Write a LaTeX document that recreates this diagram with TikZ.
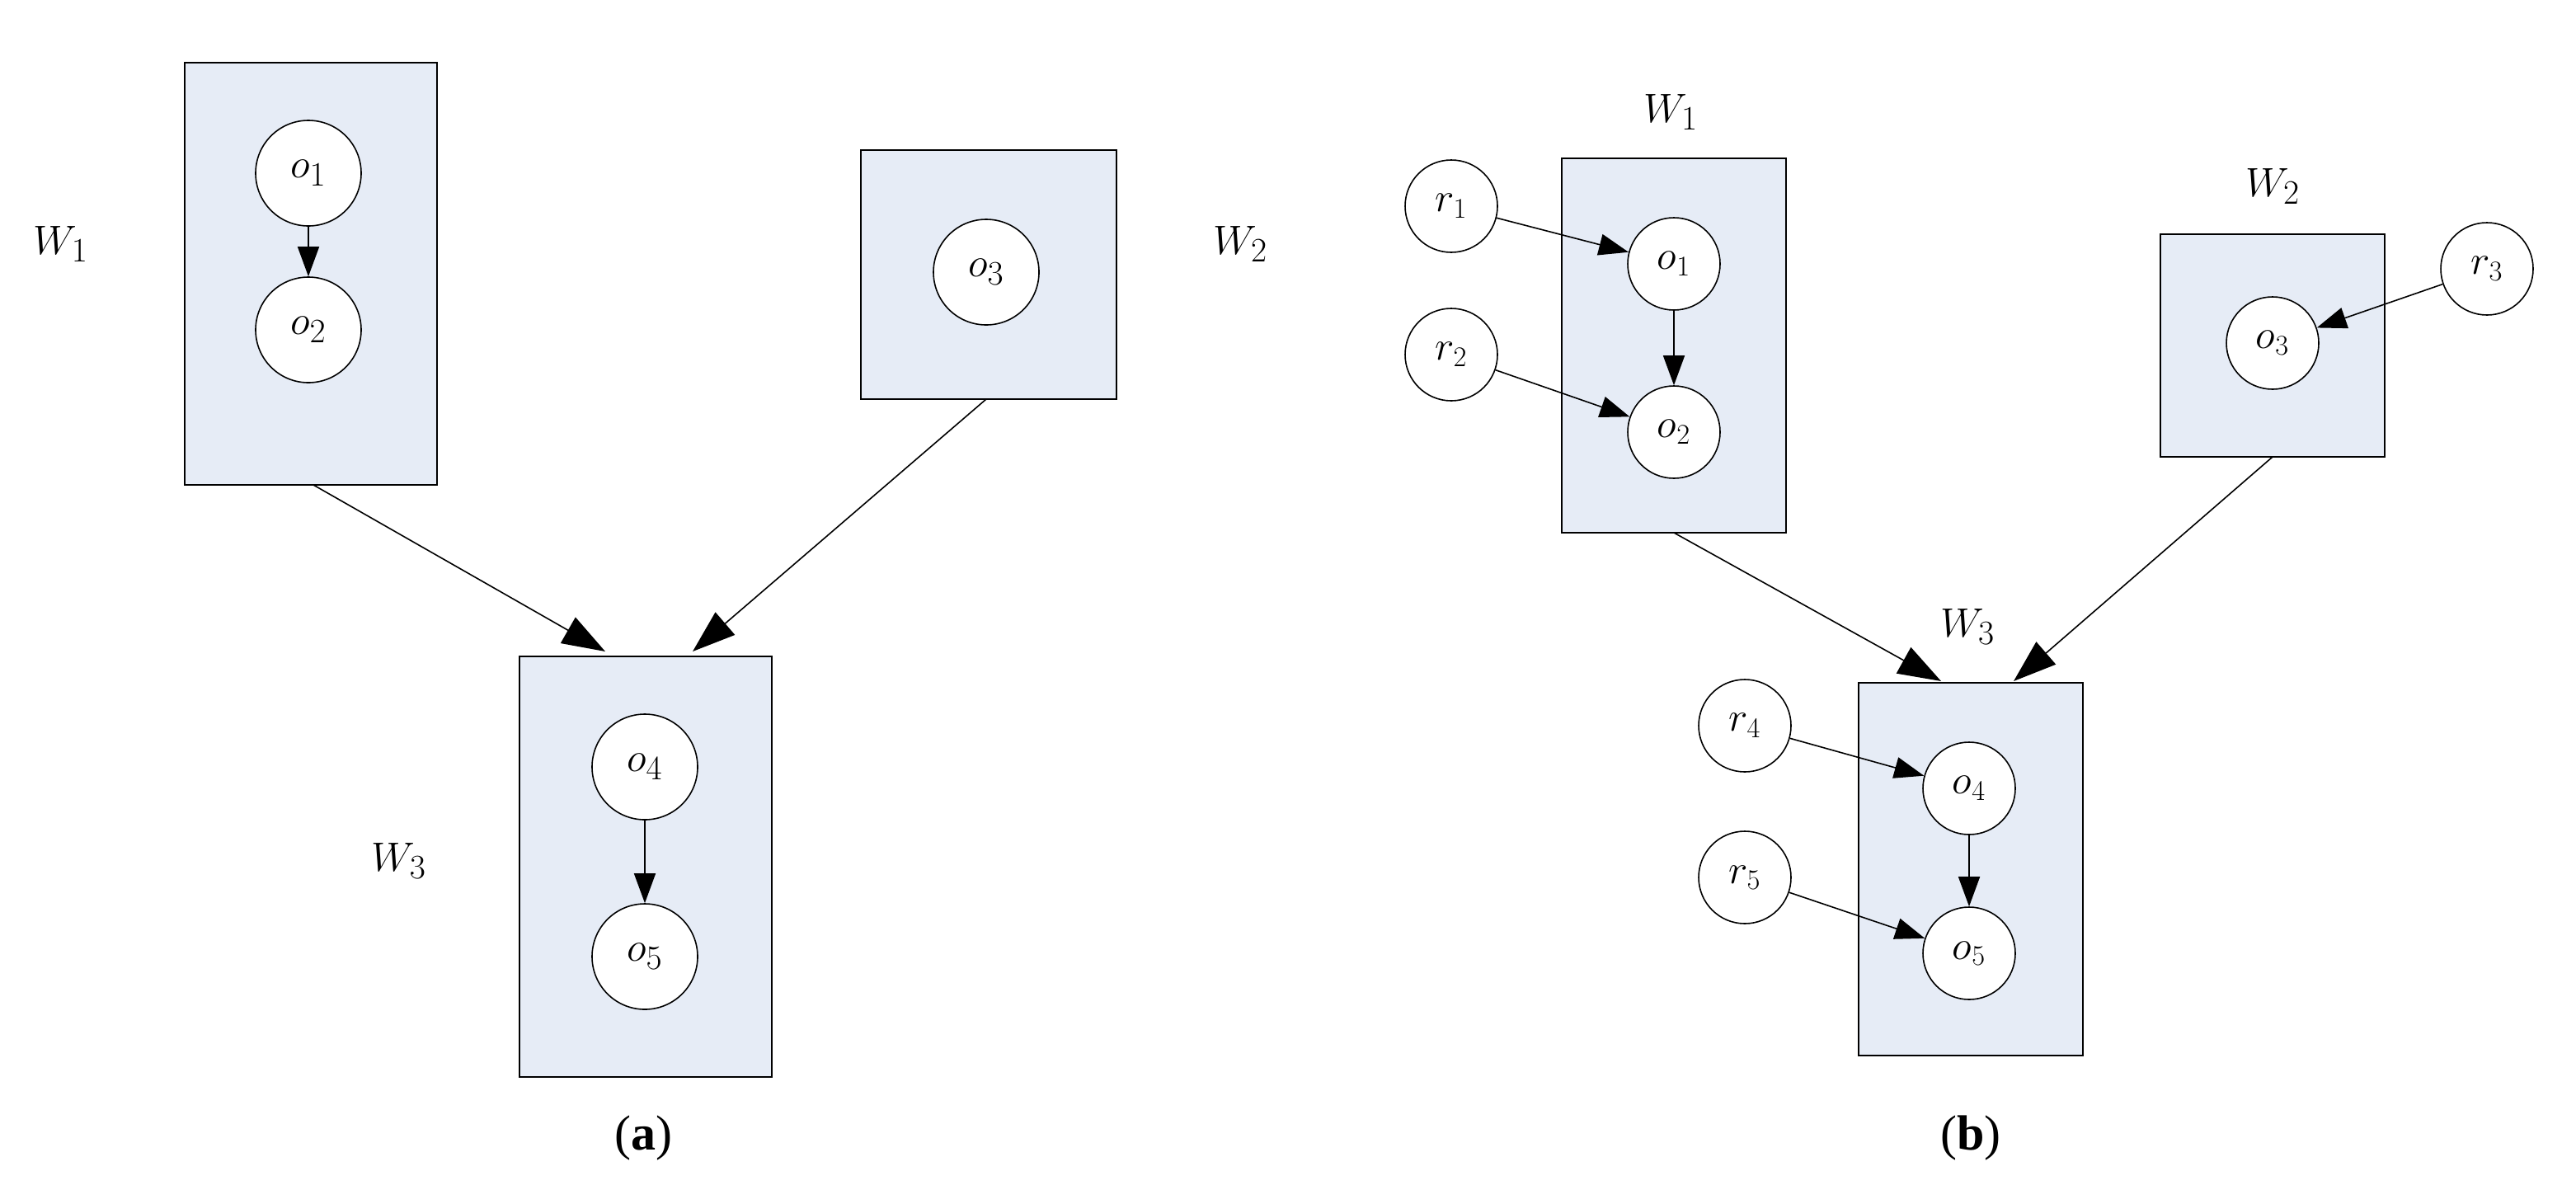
\documentclass[tikz,border=0pt]{standalone}
\usepackage{fontspec}
\setmainfont{Liberation Serif}
\usetikzlibrary{arrows.meta}
\begin{document}
\begin{tikzpicture}[x=1pt,y=-1pt,
  box/.style={draw,fill={rgb,255:red,230;green,236;blue,246},line width=0.8pt},
  oa/.style={circle,draw,fill=white,minimum size=64pt,inner sep=0pt,font=\fontsize{28}{30}\selectfont,line width=0.8pt},
  ob/.style={circle,draw,fill=white,minimum size=56pt,inner sep=0pt,font=\fontsize{25}{27}\selectfont,line width=0.8pt},
  lab/.style={font=\fontsize{30}{32}\selectfont},
  arr/.style={-{Triangle[length=26pt,width=18pt]},line width=0.8pt},
  sarr/.style={-{Triangle[length=18pt,width=13pt]},line width=0.8pt}]
\useasboundingbox (0,0) rectangle (1562,718);
% (a)
\node[box,minimum width=153pt,minimum height=256pt,inner sep=0pt] (aw1) at (188.5,166) {};
\node[box,minimum width=155pt,minimum height=151pt,inner sep=0pt] (aw2) at (599.5,166.5) {};
\node[box,minimum width=153pt,minimum height=255pt,inner sep=0pt] (aw3) at (391.5,525.5) {};
\node[oa] (ao1) at (187,105) {$o_1$};
\node[oa] (ao2) at (187,200) {$o_2$};
\node[oa] (ao3) at (598,165) {$o_3$};
\node[oa] (ao4) at (391,465) {$o_4$};
\node[oa] (ao5) at (391,580) {$o_5$};
\node[lab] (alw1) at (37,148) {$W_1$};
\node[lab] (alw2) at (752,148) {$W_2$};
\node[lab] (alw3) at (242,522) {$W_3$};
\coordinate (a1s) at (190,294); \coordinate (a1e) at (367,395);
\coordinate (a2s) at (598,242); \coordinate (a2e) at (420,395);
\draw[arr] (a1s) -- (a1e);
\draw[arr] (a2s) -- (a2e);
\draw[sarr] (ao1) -- (ao2);
\draw[sarr] (ao4) -- (ao5);
\node[lab] (la) at (390,690) {(\textbf{a})};
% (b)
\node[box,minimum width=136pt,minimum height=227pt,inner sep=0pt] (bw1) at (1015,209.5) {};
\node[box,minimum width=136pt,minimum height=135pt,inner sep=0pt] (bw2) at (1378,209.5) {};
\node[box,minimum width=136pt,minimum height=226pt,inner sep=0pt] (bw3) at (1195,527) {};
\node[ob] (bo1) at (1015,160) {$o_1$};
\node[ob] (bo2) at (1015,262) {$o_2$};
\node[ob] (bo3) at (1378,208) {$o_3$};
\node[ob] (bo4) at (1194,478) {$o_4$};
\node[ob] (bo5) at (1194,578) {$o_5$};
\node[ob] (br1) at (880,125) {$r_1$};
\node[ob] (br2) at (880,215) {$r_2$};
\node[ob] (br3) at (1508,163) {$r_3$};
\node[ob] (br4) at (1058,440) {$r_4$};
\node[ob] (br5) at (1058,532) {$r_5$};
\node[lab] (blw1) at (1013,68) {$W_1$};
\node[lab] (blw2) at (1378,113) {$W_2$};
\node[lab] (blw3) at (1193,380) {$W_3$};
\draw[sarr] (br1) -- (bo1);
\draw[sarr] (br2) -- (bo2);
\draw[sarr] (br3) -- (bo3);
\draw[sarr] (br4) -- (bo4);
\draw[sarr] (br5) -- (bo5);
\draw[sarr] (bo1) -- (bo2);
\draw[sarr] (bo4) -- (bo5);
\coordinate (b1s) at (1015,323); \coordinate (b1e) at (1177,413);
\coordinate (b2s) at (1378,277); \coordinate (b2e) at (1221,413);
\draw[arr] (b1s) -- (b1e);
\draw[arr] (b2s) -- (b2e);
\node[lab] (lb) at (1195,690) {(\textbf{b})};
\end{tikzpicture}
\end{document}
